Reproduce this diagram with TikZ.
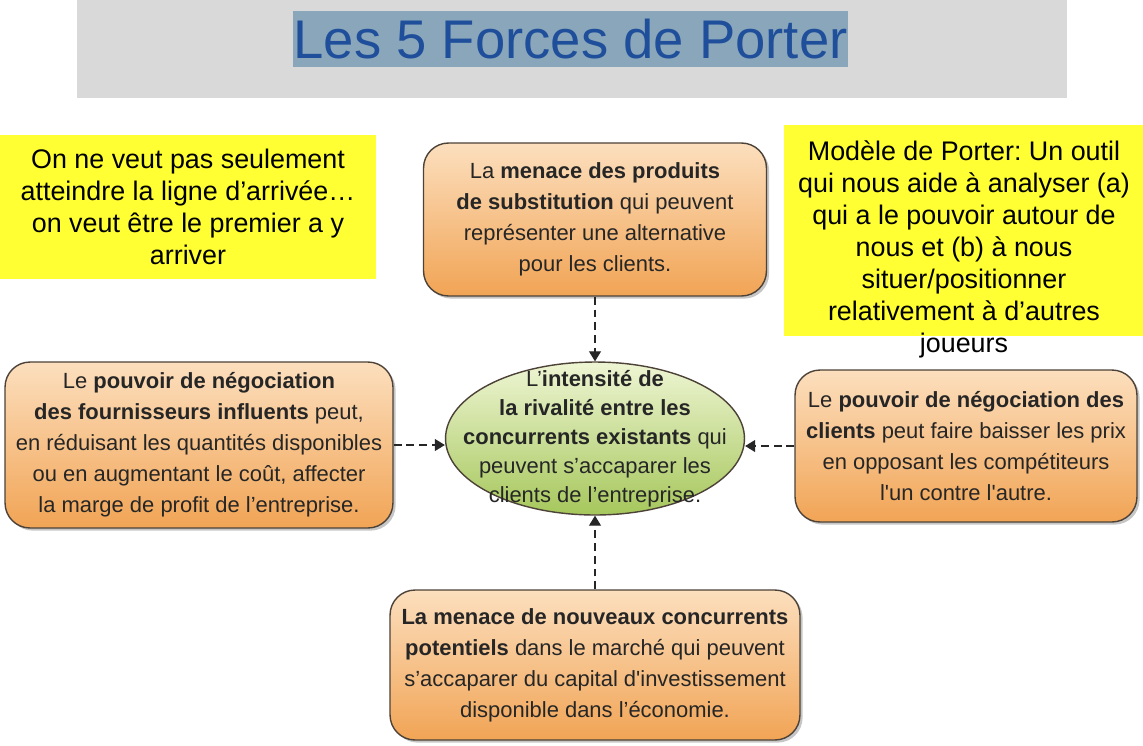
\documentclass[tikz,border=0pt]{standalone}
\usepackage{fontspec}
\setmainfont{Liberation Sans}
\frenchspacing
\usetikzlibrary{positioning, shapes.geometric, arrows.meta, calc, shadows}
\definecolor{bannergray}{HTML}{D9D9D9}
\definecolor{titlebg}{HTML}{8AA6BB}
\definecolor{titleblue}{HTML}{1F4F9B}
\definecolor{noteyellow}{HTML}{FFFF33}
\definecolor{forcetop}{HTML}{FCDFBE}
\definecolor{forcebot}{HTML}{F1A455}
\definecolor{rivaltop}{HTML}{EEF5D3}
\definecolor{rivalbot}{HTML}{A6C75C}
\definecolor{edgegray}{HTML}{4D4238}

\begin{document}
\begin{tikzpicture}[x=0.02cm, y=-0.02cm,
		force/.style={draw=edgegray, line width=0.8pt, rounded corners=0.5cm, top color=forcetop, bottom color=forcebot, align=center, inner sep=2pt, text=black!85, font=\fontsize{12.5}{17.6}\selectfont, drop shadow={shadow xshift=1.5pt, shadow yshift=-1.5pt, opacity=0.45}},
		rival/.style={ellipse, draw=edgegray, line width=0.8pt, top color=rivaltop, bottom color=rivalbot, inner sep=0pt, minimum width=5.98cm, minimum height=3.06cm},
		rivaltext/.style={align=center, inner sep=0pt, text=black!85, font=\fontsize{12.5}{16.5}\selectfont},
		note/.style={fill=noteyellow, align=center, inner sep=0pt, font=\fontsize{15.3}{18.2}\selectfont},
		flow/.style={-{Triangle[length=2mm, width=2.4mm]}, dash pattern=on 4.5pt off 2.8pt, line width=0.6pt, black!85}]
		\useasboundingbox (0, 0) rectangle (1143, 745);
		\node[fill=bannergray, minimum width=19.8cm, minimum height=1.96cm, inner sep=0pt] (banner) at (572, 49){};
		\node[fill=titlebg, text=titleblue, minimum width=11.1cm, minimum height=1.12cm, inner sep=0pt, font=\fontsize{31}{36}\selectfont] (title) at (570.5, 39){Les 5 Forces de Porter};
		\node[note, minimum width=7.52cm, minimum height=2.88cm] (goal) at (188, 207){On ne veut pas seulement\\atteindre la ligne d’arrivée…\\on veut être le premier a y\\arriver};
		\node[fill=noteyellow, minimum width=7.18cm, minimum height=4.22cm, inner sep=0pt] (modelbox) at (963.5, 230.5){};
		\node[note, fill=none] (modeltext) at (964, 249){Modèle de Porter: Un outil\\qui nous aide à analyser (a)\\qui a le pouvoir autour de\\nous et (b) à nous\\situer/positionner\\relativement à d’autres\\joueurs};
		\node[force, minimum width=6.86cm, minimum height=3.06cm] (substitutes) at (595, 219.5){La \textbf{menace des produits}\\\textbf{de substitution} qui peuvent\\représenter une alternative\\pour les clients.};
		\node[force, minimum width=7.76cm, minimum height=3.32cm] (suppliers) at (199, 445){Le \textbf{pouvoir de négociation}\\\textbf{des fournisseurs influents} peut,\\en réduisant les quantités disponibles\\ou en augmentant le coût, affecter\\la marge de profit de l’entreprise.};
		\node[force, minimum width=6.84cm, minimum height=3.04cm] (buyers) at (966, 446){Le \textbf{pouvoir de négociation des}\\\textbf{clients} peut faire baisser les prix\\en opposant les compétiteurs\\l\textquotesingle un contre l\textquotesingle autre.};
		\node[force, minimum width=8.2cm, minimum height=3cm] (entrants) at (595, 665){\textbf{La menace de nouveaux concurrents}\\\textbf{potentiels} dans le marché qui peuvent\\s’accaparer du capital d\textquotesingle investissement\\disponible dans l’économie.};
		\node[rival] (rivalry) at (595, 438.5){};
		\node[rivaltext] (rivalrylabel) at (595, 439){L’\textbf{intensité de}\\\textbf{la rivalité entre les}\\\textbf{concurrents existants} qui\\peuvent s’accaparer les\\clients de l’entreprise.};
		\draw[flow] (substitutes.south) -- (rivalry.north);
		\draw[flow] (entrants.north) -- (rivalry.south);
		\draw[flow] (suppliers.east) -- (suppliers.east -| rivalry.west);
		\draw[flow] (buyers.west) -- (buyers.west -| rivalry.east);
	\end{tikzpicture}
\end{document}
